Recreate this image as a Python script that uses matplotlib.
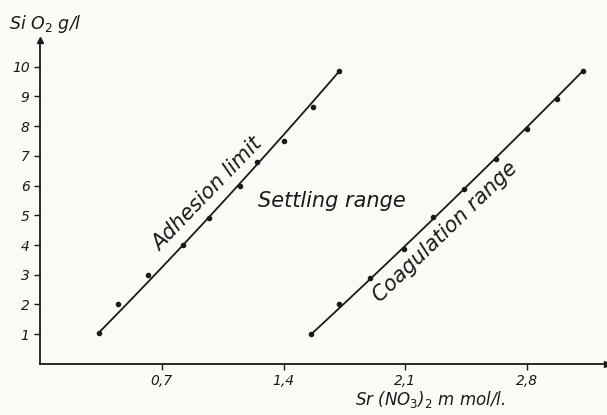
import numpy as np
import matplotlib.pyplot as plt

# values
adh_x = [0.34, 0.45, 0.62, 0.82, 0.97, 1.15, 1.25, 1.40, 1.57, 1.72]
adh_y = [1.05, 2.0, 3.0, 4.0, 4.9, 6.0, 6.8, 7.5, 8.65, 9.85]
coag_x = [1.56, 1.72, 1.90, 2.09, 2.26, 2.44, 2.62, 2.80, 2.97, 3.12]
coag_y = [1.0, 2.0, 2.9, 3.85, 4.95, 5.9, 6.9, 7.9, 8.9, 9.85]
x_ticks = [0.7, 1.4, 2.1, 2.8]
x_labels = ["0,7", "1,4", "2,1", "2,8"]
y_ticks = [1, 2, 3, 4, 5, 6, 7, 8, 9, 10]

ink = "#1a1a1a"
fig = plt.figure(figsize=(6.07, 4.15), dpi=100)
fig.patch.set_facecolor("#fbfaf6")
ax = fig.add_axes([0.066, 0.123, 0.934, 0.781])
ax.set_facecolor("#fbfaf6")

# smooth hand-drawn curve through the measured points, pinned at both ends
for xs, ys in [(adh_x, adh_y), (coag_x, coag_y)]:
    w = np.ones(len(xs))
    w[0] = w[-1] = 5
    c = np.polyfit(xs, ys, 2, w=w)
    xx = np.linspace(xs[0], xs[-1], 100)
    ax.plot(xx, np.polyval(c, xx), color=ink, lw=1.3)
    ax.plot(xs, ys, "o", color=ink, ms=3)

ax.set_xlim(0, 3.26)
ax.set_ylim(0, 10.9)
for s in ["top", "right"]:
    ax.spines[s].set_visible(False)
for s in ["left", "bottom"]:
    ax.spines[s].set_color(ink)
    ax.spines[s].set_linewidth(1.3)

# arrow heads on the axes
ax.plot(1, 0, ">", color=ink, ms=5, transform=ax.transAxes, clip_on=False)
ax.plot(0, 1, "^", color=ink, ms=5, transform=ax.transAxes, clip_on=False)

ax.set_xticks(x_ticks)
ax.set_xticklabels(x_labels, style="italic", fontsize=10)
ax.set_yticks(y_ticks)
ax.set_yticklabels([str(v) for v in y_ticks], style="italic", fontsize=10)
ax.tick_params(colors=ink, length=4, width=1)

ax.text(0.96, 5.7, "Adhesion limit", rotation=46, fontsize=15, style="italic",
        color=ink, ha="center", va="center", rotation_mode="anchor")
ax.text(1.68, 5.29, "Settling range", fontsize=15, style="italic", color=ink,
        ha="center", va="baseline")
ax.text(2.33, 4.44, "Coagulation range", rotation=44, fontsize=15, style="italic",
        color=ink, ha="center", va="center", rotation_mode="anchor")

fig.text(0.015, 0.93, "Si O$_2$ g/l", fontsize=12.5, style="italic", color=ink)
fig.text(0.585, 0.025, "Sr (NO$_3$)$_2$ m mol/l.", fontsize=12, style="italic", color=ink)

fig.savefig("out.png", dpi=100, facecolor=fig.get_facecolor())
